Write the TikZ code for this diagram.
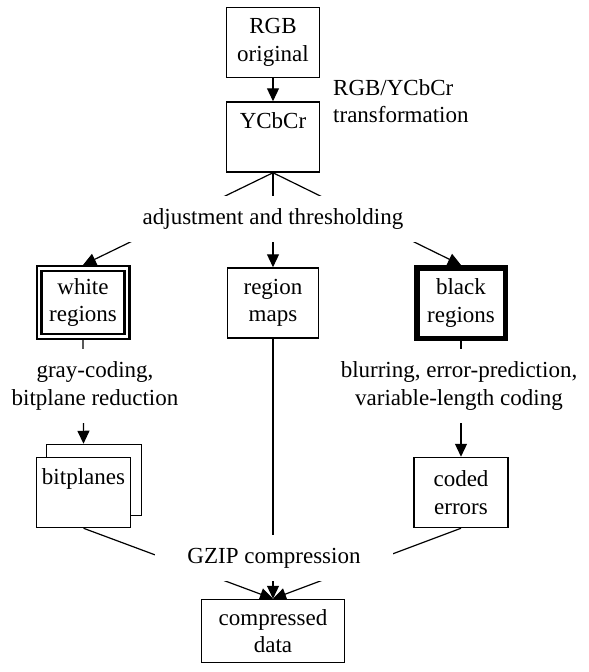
\documentclass[tikz,border=0pt]{standalone}
\usepackage{fontspec}
\setmainfont{Liberation Serif}
\usetikzlibrary{arrows.meta,calc}
\pgfdeclarelayer{bg}
\pgfsetlayers{bg,main}
\begin{document}
\begin{tikzpicture}[x=1pt,y=-1pt,
  every node/.style={font=\fontsize{23}{27.5}\selectfont, inner sep=0pt},
  box/.style={draw, line width=1.5pt, fill=white, align=center, minimum width=93pt, minimum height=70pt},
  lbl/.style={align=center, fill=white, inner xsep=4pt, inner ysep=13pt},
  widelbl/.style={lbl, inner xsep=32pt},
  conn/.style={line width=1.2pt},
  arr/.style={conn, -{Triangle[length=13pt,width=12pt]}}]
\useasboundingbox (0,0) rectangle (589,672);

\node[box] (rgb) at (273,42.5) {RGB\\original};
\node[box] (ycc) at (273,137) {YCbCr\\\phantom{g}};
\node[anchor=north west, align=left] (trans) at (333,79) {RGB/YCbCr\\transformation};

\node[widelbl] (adj) at (273,219) {adjustment and thresholding};

\node[draw, double, line width=2.4pt, double distance=2.4pt, fill=white, align=center,
      minimum width=87.8pt, minimum height=67.8pt, outer sep=3.6pt] (white) at (83,302.5) {white\\regions};
\node[box, minimum width=91pt, minimum height=70pt] (region) at (273,303) {region\\maps};
\node[draw, line width=5.5pt, fill=white, align=center,
      minimum width=88.5pt, minimum height=70.5pt] (black) at (461,303) {black\\regions};

\node[lbl] (gray) at (95,386) {gray-coding,\\bitplane reduction};
\node[lbl] (blur) at (459,386) {blurring, error-prediction,\\variable-length coding};

\node[draw, line width=1.5pt, fill=white, minimum width=95pt, minimum height=71pt] (bpback) at (94,480) {};
\node[box, minimum width=94pt, minimum height=70pt] (bp) at (83.5,492.5) {bitplanes\\\phantom{g}};
\node[box, minimum width=94pt, minimum height=70pt] (coded) at (461,492.5) {coded\\errors};

\node[widelbl] (gzip) at (274,558) {GZIP compression};
\node[box, minimum width=143pt, minimum height=63pt] (comp) at (273,631) {compressed\\data};

\begin{pgfonlayer}{bg}
\draw[arr] (rgb) -- (ycc);
\draw[arr] (ycc.south) -- (white.north);
\draw[arr] (ycc.south) -- (region.north);
\draw[arr] (ycc.south) -- (black.north);
\draw[arr] (white.south) -- (bp.north |- bpback.north);
\draw[arr] (black.south) -- (coded.north);
\draw[arr] (bp.south) -- (comp.north);
\draw[arr] (region.south) -- (comp.north);
\draw[arr] (coded.south) -- (comp.north);
\end{pgfonlayer}
\end{tikzpicture}
\end{document}
